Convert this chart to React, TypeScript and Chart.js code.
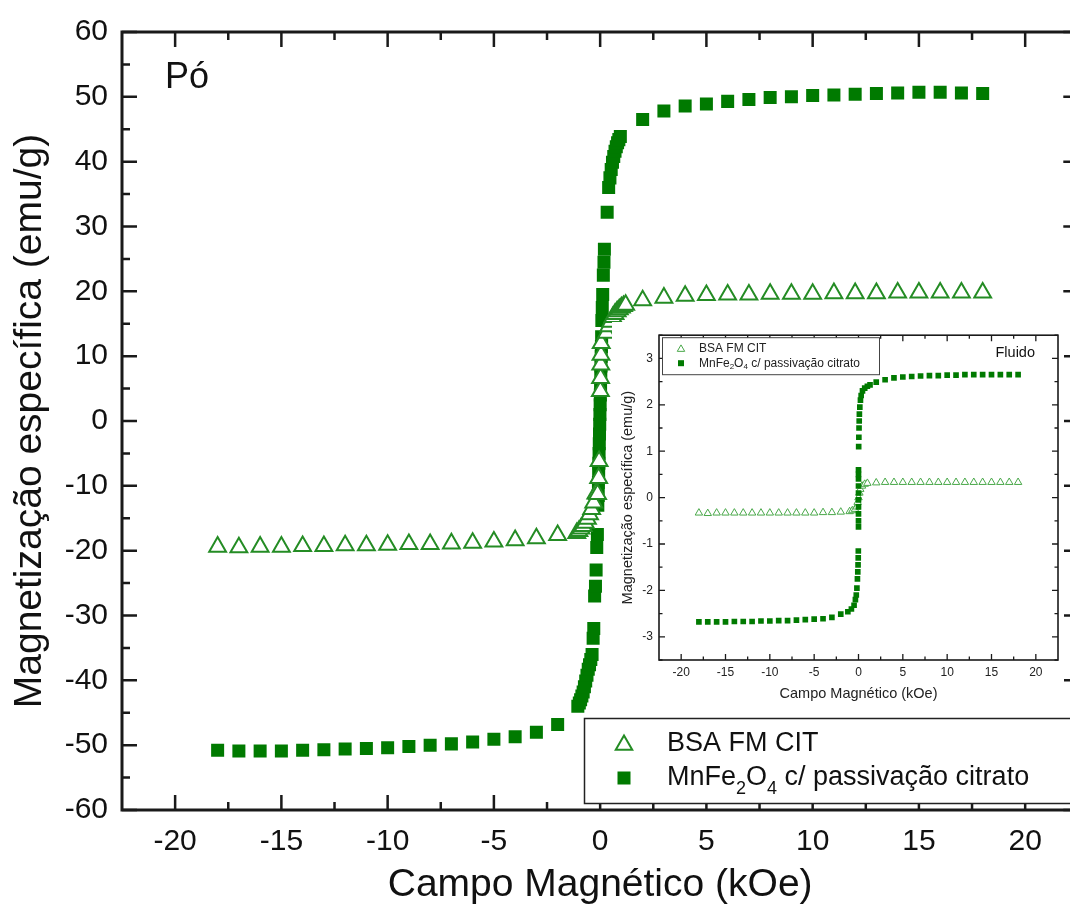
import React, { useEffect, useRef } from 'react';
import { Chart, registerables } from 'chart.js';

Chart.register(...registerables);

// ---------- Main plot (powder, "Pó") ----------
const xMajorTicks = [-20, -15, -10, -5, 0, 5, 10, 15, 20];
const xMinorTicks = [-17.5, -12.5, -7.5, -2.5, 2.5, 7.5, 12.5, 17.5];
const yMainMajorTicks = [-60, -50, -40, -30, -20, -10, 0, 10, 20, 30, 40, 50, 60];
const yMainMinorTicks = [-55, -45, -35, -25, -15, -5, 5, 15, 25, 35, 45, 55];

// BSA FM CIT (powder) – open triangles
const bsaPowderH = [
  -18, -17, -16, -15, -14, -13, -12, -11, -10, -9, -8, -7, -6, -5, -4, -3, -2,
  -1.1, -1.0, -0.9, -0.8, -0.7, -0.6, -0.5, -0.4, -0.3, -0.2, -0.12, -0.07, -0.05,
  0.01, 0.02, 0.03, 0.04, 0.05, 0.3, 0.4, 0.5, 0.6, 0.7, 0.8, 0.9, 1.0, 1.1, 1.2,
  2, 3, 4, 5, 6, 7, 8, 9, 10, 11, 12, 13, 14, 15, 16, 17, 18,
];
const bsaPowderM = [
  -19.4, -19.5, -19.4, -19.4, -19.3, -19.3, -19.2, -19.2, -19.1, -19.0, -19.0, -18.9, -18.8, -18.6, -18.4, -18.1, -17.6,
  -17.3, -17.0, -16.6, -16.2, -15.7, -15.1, -14.4, -13.6, -12.6, -11.2, -11.3, -8.8, -6.2,
  4.6, 6.6, 8.7, 10.2, 12.0, 13.6, 14.6, 15.3, 16.0, 16.5, 16.9, 17.2, 17.5, 17.7, 17.9,
  18.6, 19.0, 19.3, 19.4, 19.5, 19.5, 19.6, 19.6, 19.6, 19.7, 19.7, 19.7, 19.8, 19.8, 19.8, 19.8, 19.8,
];

// MnFe2O4 c/ passivação citrato (powder) – filled squares
const mnfePowderH = [
  -18, -17, -16, -15, -14, -13, -12, -11, -10, -9, -8, -7, -6, -5, -4, -3, -2,
  -1.05, -0.98, -0.92, -0.86, -0.8, -0.74, -0.68, -0.62, -0.56, -0.5, -0.44, -0.38, -0.33, -0.3,
  -0.26, -0.22, -0.19, -0.16, -0.13, -0.11, -0.09, -0.08, -0.07, -0.06, -0.05, -0.04, -0.03,
  -0.02, -0.01, 0, 0.01, 0.02, 0.03, 0.04, 0.05, 0.06, 0.07, 0.08, 0.1, 0.12, 0.15, 0.18, 0.2,
  0.33, 0.4, 0.46, 0.52, 0.58, 0.64, 0.7, 0.76, 0.82, 0.88, 0.95,
  2, 3, 4, 5, 6, 7, 8, 9, 10, 11, 12, 13, 14, 15, 16, 17, 18,
];
const mnfePowderM = [
  -50.8, -50.9, -50.9, -50.9, -50.8, -50.7, -50.6, -50.5, -50.4, -50.2, -50.0, -49.8, -49.5, -49.1, -48.7, -48.0, -46.8,
  -44.0, -43.5, -43.0, -42.4, -41.8, -41.0, -40.1, -39.2, -38.3, -37.6, -36.8, -36.0, -33.5, -32.0,
  -27.0, -25.5, -23.0, -19.5, -17.5, -13.0, -11.5, -9.5, -8.0, -6.5, -5.0, -3.5, -2.0,
  -0.5, 1.0, 2.5, 4.0, 5.5, 7.0, 8.5, 10.0, 11.5, 13.0, 15.5, 17.5, 19.5, 22.5, 24.5, 26.5,
  32.2, 36.0, 37.5, 38.8, 39.9, 40.8, 41.6, 42.3, 42.9, 43.4, 43.9,
  46.5, 47.8, 48.6, 48.9, 49.3, 49.6, 49.9, 50.0, 50.2, 50.3, 50.4, 50.5, 50.6, 50.7, 50.7, 50.6, 50.5,
];

// ---------- Inset (fluid, "Fluido") ----------
const yInsetMajorTicks = [-3, -2, -1, 0, 1, 2, 3];
const yInsetMinorTicks = [-3.5, -2.5, -1.5, -0.5, 0.5, 1.5, 2.5, 3.5];

const bsaFluidH = [
  -18, -17, -16, -15, -14, -13, -12, -11, -10, -9, -8, -7, -6, -5, -4, -3, -2,
  -1.0, -0.7, -0.4, -0.2, -0.1, 0, 0.1, 0.2, 0.4, 0.7, 1.0,
  2, 3, 4, 5, 6, 7, 8, 9, 10, 11, 12, 13, 14, 15, 16, 17, 18,
];
const bsaFluidM = [
  -0.33, -0.34, -0.33, -0.33, -0.33, -0.33, -0.33, -0.33, -0.33, -0.33, -0.33, -0.33, -0.33, -0.33, -0.32, -0.32, -0.31,
  -0.30, -0.28, -0.25, -0.2, -0.1, 0.0, 0.1, 0.18, 0.25, 0.29, 0.31,
  0.32, 0.33, 0.33, 0.33, 0.33, 0.33, 0.33, 0.33, 0.33, 0.33, 0.33, 0.33, 0.33, 0.33, 0.33, 0.33, 0.33,
];

const mnfeFluidH = [
  -18, -17, -16, -15, -14, -13, -12, -11, -10, -9, -8, -7, -6, -5, -4, -3, -2,
  -1.2, -0.8, -0.5, -0.35, -0.25, -0.18, -0.12, -0.08, -0.05, -0.03, -0.02,
  0, 0, 0, 0, 0, 0, 0, 0, 0, 0,
  0.02, 0.04, 0.06, 0.08, 0.1, 0.15, 0.22, 0.3, 0.45, 0.7, 1.0, 1.3,
  2, 3, 4, 5, 6, 7, 8, 9, 10, 11, 12, 13, 14, 15, 16, 17, 18,
];
const mnfeFluidM = [
  -2.68, -2.68, -2.68, -2.68, -2.67, -2.67, -2.67, -2.66, -2.66, -2.65, -2.65, -2.64, -2.63, -2.62, -2.61, -2.58, -2.51,
  -2.46, -2.40, -2.32, -2.2, -2.1, -1.95, -1.75, -1.6, -1.45, -1.3, -1.15,
  -0.63, -0.5, -0.35, -0.2, -0.05, 0.1, 0.25, 0.4, 0.5, 0.6,
  1.1, 1.3, 1.5, 1.65, 1.8, 1.95, 2.1, 2.2, 2.3, 2.36, 2.4, 2.43,
  2.49, 2.54, 2.58, 2.60, 2.61, 2.62, 2.63, 2.63, 2.64, 2.64, 2.65, 2.65, 2.65, 2.65, 2.65, 2.65, 2.65,
];

const seriesNames = ['BSA FM CIT', 'MnFe2O4 c/ passivação citrato'];

const FONT = '"Liberation Sans", Arial, Helvetica, sans-serif';
const SQ_GREEN = '#007a00';
const TRI_GREEN = '#248c24';
const TRI_GREEN_LIGHT = '#4aa84a';
const AXIS = '#1a1a1a';

const toPoints = (xs: number[], ys: number[]) => xs.map((x, i) => ({ x, y: ys[i] }));

type FrameOpts = {
  id: string;
  lineWidth: number;
  tickWidth: number;
  major: number;
  minor: number;
  xMajor: number[];
  xMinor: number[];
  yMajor: number[];
  yMinor: number[];
};

function framePlugin(o: FrameOpts) {
  return {
    id: o.id,
    afterDatasetsDraw(chart: any) {
      const { ctx, chartArea: a, scales } = chart;
      const xs = scales.x;
      const ys = scales.y;
      ctx.save();
      ctx.strokeStyle = AXIS;
      ctx.lineWidth = o.lineWidth;
      ctx.strokeRect(a.left, a.top, a.right - a.left, a.bottom - a.top);
      ctx.lineWidth = o.tickWidth;
      ctx.beginPath();
      const vt = (v: number, len: number) => {
        const p = xs.getPixelForValue(v);
        ctx.moveTo(p, a.bottom);
        ctx.lineTo(p, a.bottom - len);
        ctx.moveTo(p, a.top);
        ctx.lineTo(p, a.top + len);
      };
      const ht = (v: number, len: number) => {
        const p = ys.getPixelForValue(v);
        ctx.moveTo(a.left, p);
        ctx.lineTo(a.left + len, p);
        ctx.moveTo(a.right, p);
        ctx.lineTo(a.right - len, p);
      };
      o.xMajor.forEach((v) => vt(v, o.major));
      o.xMinor.forEach((v) => vt(v, o.minor));
      o.yMajor.forEach((v) => ht(v, o.major));
      o.yMinor.forEach((v) => ht(v, o.minor));
      ctx.stroke();
      ctx.restore();
    },
  };
}

function drawTriangle(ctx: CanvasRenderingContext2D, x: number, y: number, r: number, color: string, lw: number) {
  ctx.beginPath();
  ctx.moveTo(x, y - r);
  ctx.lineTo(x + r * Math.sin((2 * Math.PI) / 3), y - r * Math.cos((2 * Math.PI) / 3));
  ctx.lineTo(x + r * Math.sin((4 * Math.PI) / 3), y - r * Math.cos((4 * Math.PI) / 3));
  ctx.closePath();
  ctx.fillStyle = '#fff';
  ctx.fill();
  ctx.strokeStyle = color;
  ctx.lineWidth = lw;
  ctx.stroke();
}

// draws "MnFe2O4 c/ ..." with subscripts
function drawFormulaLabel(ctx: CanvasRenderingContext2D, x: number, y: number, size: number, subSize: number, subOff: number) {
  const parts: [string, boolean][] = [
    ['MnFe', false],
    ['2', true],
    ['O', false],
    ['4', true],
    [' c/ passivação citrato', false],
  ];
  let cx = x;
  ctx.textBaseline = 'middle';
  ctx.textAlign = 'left';
  for (const [t, sub] of parts) {
    ctx.font = `${sub ? subSize : size}px ${FONT}`;
    ctx.fillText(t, cx, sub ? y + subOff : y);
    cx += ctx.measureText(t).width;
  }
}

const mainDecor = {
  id: 'mainDecor',
  afterDraw(chart: any) {
    const { ctx, chartArea: a } = chart;
    ctx.save();
    // panel label
    ctx.fillStyle = '#111';
    ctx.font = `36px ${FONT}`;
    ctx.textBaseline = 'middle';
    ctx.textAlign = 'left';
    ctx.fillText('Pó', a.left + 43, a.top + 46);
    // legend box
    const bx = 584.5, by = 718.5, bw = 520, bh = 85;
    ctx.fillStyle = '#fff';
    ctx.fillRect(bx, by, bw, bh);
    ctx.strokeStyle = '#222';
    ctx.lineWidth = 1.5;
    ctx.strokeRect(bx, by, bw, bh);
    drawTriangle(ctx, 624, 745, 9.5, TRI_GREEN, 2);
    ctx.fillStyle = SQ_GREEN;
    ctx.fillRect(617.5, 771.5, 13, 13);
    ctx.fillStyle = '#111';
    ctx.font = `27px ${FONT}`;
    ctx.fillText(seriesNames[0], 667, 744);
    drawFormulaLabel(ctx, 667, 778, 27, 18, 11);
    ctx.restore();
  },
};

const insetDecor = {
  id: 'insetDecor',
  afterDraw(chart: any) {
    const { ctx, chartArea: a } = chart;
    ctx.save();
    ctx.fillStyle = '#111';
    ctx.font = `14.5px ${FONT}`;
    ctx.textBaseline = 'middle';
    ctx.textAlign = 'right';
    ctx.fillText('Fluido', a.right - 23, a.top + 18);
    // legend
    const bx = a.left + 3.5, by = a.top + 2.5, bw = 217, bh = 37;
    ctx.fillStyle = '#fff';
    ctx.fillRect(bx, by, bw, bh);
    ctx.strokeStyle = '#444';
    ctx.lineWidth = 1;
    ctx.strokeRect(bx, by, bw, bh);
    drawTriangle(ctx, a.left + 22, a.top + 14, 4.3, TRI_GREEN_LIGHT, 1);
    ctx.fillStyle = SQ_GREEN;
    ctx.fillRect(a.left + 19, a.top + 25, 6, 6);
    ctx.fillStyle = '#222';
    ctx.font = `12px ${FONT}`;
    ctx.textAlign = 'left';
    ctx.fillText(seriesNames[0], a.left + 40, a.top + 13);
    drawFormulaLabel(ctx, a.left + 40, a.top + 28, 12, 8, 4);
    ctx.restore();
  },
};

export default function App() {
  const mainRef = useRef<HTMLCanvasElement>(null);
  const insetRef = useRef<HTMLCanvasElement>(null);

  useEffect(() => {
    document.body.style.overflow = 'hidden';
    const mainChart = new Chart(mainRef.current as HTMLCanvasElement, {
      type: 'scatter',
      data: {
        datasets: [
          {
            label: seriesNames[0],
            data: toPoints(bsaPowderH, bsaPowderM),
            pointStyle: 'triangle',
            pointRadius: 9.7,
            borderWidth: 2,
            borderColor: TRI_GREEN,
            backgroundColor: '#ffffff',
            order: 0,
          },
          {
            label: seriesNames[1],
            data: toPoints(mnfePowderH, mnfePowderM),
            pointStyle: 'rect',
            pointRadius: 9.2,
            borderWidth: 0,
            backgroundColor: SQ_GREEN,
            order: 1,
          },
        ],
      },
      options: {
        responsive: false,
        animation: false,
        devicePixelRatio: 1,
        events: [],
        layout: { padding: { left: 0, top: 29, right: 10, bottom: 0 } },
        plugins: { legend: { display: false }, tooltip: { enabled: false } },
        scales: {
          x: {
            type: 'linear',
            min: -22.5,
            max: 22.5,
            afterBuildTicks: (s: any) => {
              s.ticks = xMajorTicks.map((v) => ({ value: v }));
            },
            afterFit: (s: any) => {
              s.height = 101;
            },
            grid: { display: false, drawTicks: false },
            border: { display: false },
            ticks: {
              padding: 14,
              color: '#111',
              font: { family: FONT, size: 30 },
              maxRotation: 0,
              autoSkip: false,
              callback: (v: any) => String(v),
            },
            title: {
              display: true,
              text: 'Campo Magnético (kOe)',
              color: '#111',
              font: { family: FONT, size: 39 },
              padding: { top: 0, bottom: 2 },
            },
          },
          y: {
            type: 'linear',
            min: -60,
            max: 60,
            afterBuildTicks: (s: any) => {
              s.ticks = yMainMajorTicks.map((v) => ({ value: v }));
            },
            afterFit: (s: any) => {
              s.width = 122;
            },
            grid: { display: false, drawTicks: false },
            border: { display: false },
            ticks: {
              padding: 14,
              color: '#111',
              font: { family: FONT, size: 30 },
              autoSkip: false,
              callback: (v: any) => String(v),
            },
            title: {
              display: true,
              text: 'Magnetização específica (emu/g)',
              color: '#111',
              font: { family: FONT, size: 39 },
              padding: { top: 7, bottom: 0 },
            },
          },
        },
      },
      plugins: [
        framePlugin({
          id: 'mainFrame',
          lineWidth: 3,
          tickWidth: 2.5,
          major: 15,
          minor: 8,
          xMajor: xMajorTicks,
          xMinor: xMinorTicks,
          yMajor: yMainMajorTicks,
          yMinor: yMainMinorTicks,
        }),
        mainDecor,
      ],
    } as any);

    const insetChart = new Chart(insetRef.current as HTMLCanvasElement, {
      type: 'scatter',
      data: {
        datasets: [
          {
            label: seriesNames[0],
            data: toPoints(bsaFluidH, bsaFluidM),
            pointStyle: 'triangle',
            pointRadius: 4.3,
            borderWidth: 1,
            borderColor: TRI_GREEN_LIGHT,
            backgroundColor: '#ffffff',
            order: 1,
          },
          {
            label: seriesNames[1],
            data: toPoints(mnfeFluidH, mnfeFluidM),
            pointStyle: 'rect',
            pointRadius: 4,
            borderWidth: 0,
            backgroundColor: SQ_GREEN,
            order: 0,
          },
        ],
      },
      options: {
        responsive: false,
        animation: false,
        devicePixelRatio: 1,
        events: [],
        layout: { padding: { left: 0, top: 13, right: 6, bottom: 0 } },
        plugins: { legend: { display: false }, tooltip: { enabled: false } },
        scales: {
          x: {
            type: 'linear',
            min: -22.5,
            max: 22.5,
            afterBuildTicks: (s: any) => {
              s.ticks = xMajorTicks.map((v) => ({ value: v }));
            },
            afterFit: (s: any) => {
              s.height = 50;
            },
            grid: { display: false, drawTicks: false },
            border: { display: false },
            ticks: {
              padding: 5,
              color: '#222',
              font: { family: FONT, size: 12 },
              maxRotation: 0,
              autoSkip: false,
              callback: (v: any) => String(v),
            },
            title: {
              display: true,
              text: 'Campo Magnético (kOe)',
              color: '#222',
              font: { family: FONT, size: 14.5 },
              padding: { top: 0, bottom: 7.5 },
            },
          },
          y: {
            type: 'linear',
            min: -3.5,
            max: 3.5,
            afterBuildTicks: (s: any) => {
              s.ticks = yInsetMajorTicks.map((v) => ({ value: v }));
            },
            afterFit: (s: any) => {
              s.width = 47;
            },
            grid: { display: false, drawTicks: false },
            border: { display: false },
            ticks: {
              padding: 6,
              color: '#222',
              font: { family: FONT, size: 12 },
              autoSkip: false,
              callback: (v: any) => String(v),
            },
            title: {
              display: true,
              text: 'Magnetização específica (emu/g)',
              color: '#222',
              font: { family: FONT, size: 14.5 },
              padding: { top: 7, bottom: 0 },
            },
          },
        },
      },
      plugins: [
        framePlugin({
          id: 'insetFrame',
          lineWidth: 1.6,
          tickWidth: 1.3,
          major: 6,
          minor: 3.5,
          xMajor: xMajorTicks,
          xMinor: xMinorTicks,
          yMajor: yInsetMajorTicks,
          yMinor: yInsetMinorTicks,
        }),
        insetDecor,
      ],
    } as any);

    return () => {
      mainChart.destroy();
      insetChart.destroy();
    };
  }, []);

  return (
    <div>
      <canvas
        ref={mainRef}
        width={1090}
        height={911}
        style={{ position: 'fixed', left: 0, top: 0, background: '#fff' }}
      />
      <canvas
        ref={insetRef}
        width={452}
        height={388}
        style={{ position: 'fixed', left: 612, top: 322, background: '#fff' }}
      />
    </div>
  );
}
